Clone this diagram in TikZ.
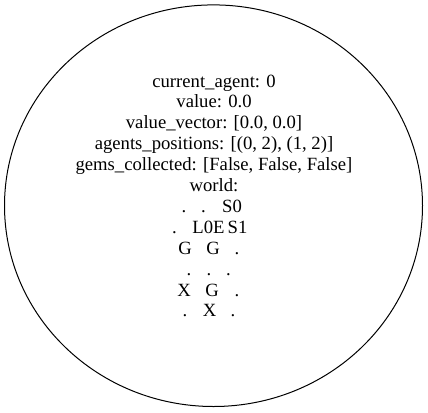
\documentclass[tikz,border=0pt]{standalone}
\usepackage{fontspec}
\setmainfont{Liberation Serif}
\begin{document}
\begin{tikzpicture}[x=0.75pt,y=-0.75pt,
  lbl/.style={inner sep=0pt,anchor=base,font=\fontsize{14}{14}\selectfont},
  tok/.style={inner sep=0pt,anchor=base,font=\fontsize{14}{14}\selectfont},
  state/.style={draw=black,line width=0.75pt}]
\useasboundingbox (0,0) rectangle (428,412);
\draw[state] (213.5,205.7) ellipse [x radius=209, y radius=200.8];
\node[lbl] (l1) at (214,87.0) {current\_agent: 0};
\node[lbl] (l2) at (214,107.9) {value: 0.0};
\node[lbl] (l3) at (214,128.8) {value\_vector: [0.0, 0.0]};
\node[lbl] (l4) at (214,149.7) {agents\_positions: [(0, 2), (1, 2)]};
\node[lbl] (l5) at (214,170.6) {gems\_collected: [False, False, False]};
\node[lbl] (l6) at (214,191.5) {world:};
% row 1
\node[tok] (r1a) at (184,212.4) {.};
\node[tok] (r1b) at (203.5,212.4) {.};
\node[tok] (r1c) at (232,212.4) {S0};
% row 2
\node[tok] (r2a) at (174.5,233.3) {.};
\node[tok] (r2b) at (208.5,233.3) {L0E};
\node[tok] (r2c) at (237.5,233.3) {S1};
% row 3
\node[tok] (r3a) at (185,254.2) {G};
\node[tok] (r3b) at (213,254.2) {G};
\node[tok] (r3c) at (237,254.2) {.};
% row 4
\node[tok] (r4a) at (189,275.1) {.};
\node[tok] (r4b) at (209,275.1) {.};
\node[tok] (r4c) at (228.5,275.1) {.};
% row 5
\node[tok] (r5a) at (184,296.0) {X};
\node[tok] (r5b) at (212,296.0) {G};
\node[tok] (r5c) at (237,296.0) {.};
% row 6
\node[tok] (r6a) at (185,316.9) {.};
\node[tok] (r6b) at (209.5,316.9) {X};
\node[tok] (r6c) at (233,316.9) {.};
\end{tikzpicture}
\end{document}
